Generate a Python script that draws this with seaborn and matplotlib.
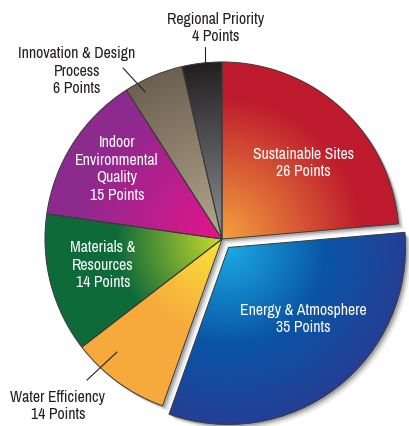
import numpy as np
import seaborn as sns
import matplotlib.pyplot as plt
import matplotlib.font_manager as fm
from matplotlib.patches import Wedge

# --- Data ---
categories = ["Sustainable Sites", "Energy & Atmosphere", "Water Efficiency",
              "Materials &\nResources", "Indoor\nEnvironmental\nQuality",
              "Innovation & Design\nProcess", "Regional Priority"]
slice_points = [26, 35, 10, 14, 15, 6, 4]      # size of each slice as drawn
label_points = [26, 35, 14, 14, 15, 6, 4]      # numbers printed in the labels

inner_colors = [["#F4A23E"], ["#1AAAE2", "#0A55A5"], ["#FAE43A"], ["#C9DC2C"],
                ["#E5148C"], ["#B5A88F"], ["#8C9096"]]
outer_colors = ["#BE1B2D", "#2A3A92", "#F7AA3C", "#0F6A3A", "#8C2A8E", "#6C6050", "#231F20"]
grad_radius = [0.8, 1.1, 0.55, 0.6, 0.85, 1.0, 1.0]

sns.set_theme(style="white")
names = sorted({f.name for f in fm.fontManager.ttflist})
narrow = [n for n in names if "Narrow" in n or "Condensed" in n]
fam = narrow[0] if narrow else "Roboto"
plt.rcParams["font.family"] = [fam, "DejaVu Sans"]

fig = plt.figure(figsize=(4.09, 4.26), dpi=100)
ax = fig.add_axes([0, 0, 1, 1])

explode = [0, 0.06, 0, 0, 0, 0, 0]
wedges, _ = ax.pie(slice_points, startangle=90, counterclock=False, explode=explode,
                   radius=1.0, center=(0, 0), frame=True,
                   wedgeprops=dict(facecolor="none", edgecolor="#3a3a3a", linewidth=0.7, zorder=3))
ax.set_xlim(-1.254, 1.056)
ax.set_ylim(-1.056, 1.350)
ax.set_aspect("equal")
ax.axis("off")

# soft shadow behind the pie
for w in wedges:
    for k, a in [(0.03, 0.08), (0.02, 0.12), (0.012, 0.18)]:
        sh = Wedge((w.center[0] + k, w.center[1] - k), w.r, w.theta1, w.theta2,
                   facecolor="black", edgecolor="none", alpha=a, zorder=0)
        ax.add_patch(sh)

# gradient fill for each slice
xs = np.linspace(-1.254, 1.056, 500)
ys = np.linspace(-1.056, 1.350, 520)
X, Y = np.meshgrid(xs, ys)
for w, inner, outer, R in zip(wedges, inner_colors, outer_colors, grad_radius):
    cmap = sns.blend_palette(inner + [outer], as_cmap=True)
    cx, cy = w.center
    t = np.clip(np.hypot(X - cx, Y - cy) / R, 0, 1)
    im = ax.imshow(cmap(t), extent=(xs[0], xs[-1], ys[0], ys[-1]), origin="lower",
                   interpolation="bilinear", zorder=1)
    im.set_clip_path(w)

# labels
fs = 11.3
ls = 1.2
inside = {0: (0.458, 0.429), 1: (0.458, -0.452), 3: (-0.672, -0.147), 4: (-0.593, 0.395)}
for i, (x, y) in inside.items():
    ax.text(x, y, f"{categories[i]}\n{label_points[i]} Points", color="white",
            ha="center", va="center", fontsize=fs, linespacing=ls, zorder=4)

outside = {2: (-0.927, -0.944), 5: (-0.819, 0.949), 6: (-0.034, 1.192)}
for i, (x, y) in outside.items():
    ax.text(x, y, f"{categories[i]}\n{label_points[i]} Points", color="#231F20",
            ha="center", va="center", fontsize=fs, linespacing=ls, zorder=4)

leaders = [((-0.763, -0.797), (-0.593, -0.638)),
           ((-0.559, 0.966), (-0.435, 0.831)),
           ((-0.096, 1.085), (-0.096, 1.0))]
for (x0, y0), (x1, y1) in leaders:
    ax.plot([x0, x1], [y0, y1], color="#231F20", lw=0.8, zorder=4)

fig.savefig("out.png", dpi=100, facecolor="white")
